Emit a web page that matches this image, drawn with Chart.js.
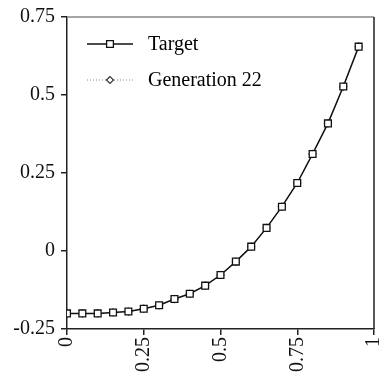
<!DOCTYPE html>
<html>
<head>
<meta charset="utf-8">
<script src="https://cdn.jsdelivr.net/npm/chart.js@4.4.1/dist/chart.umd.min.js"></script>
<style>
  html, body { margin: 0; padding: 0; background: #fff; }
  #wrap { width: 385px; height: 378px; }
</style>
</head>
<body>
<div id="wrap"><canvas id="chart"></canvas></div>
<script>
// Data
const xValues = [0, 0.05, 0.1, 0.15, 0.2, 0.25, 0.3, 0.35, 0.4, 0.45, 0.5, 0.55, 0.6, 0.65, 0.7, 0.75, 0.8, 0.85, 0.9, 0.95];
const targetValues = [-0.2, -0.2, -0.2, -0.197, -0.194, -0.185, -0.174, -0.154, -0.137, -0.111, -0.077, -0.034, 0.014, 0.074, 0.142, 0.218, 0.311, 0.409, 0.527, 0.655];
const gen22Values = [-0.2, -0.2, -0.2, -0.197, -0.194, -0.185, -0.174, -0.154, -0.137, -0.111, -0.077, -0.034, 0.014, 0.074, 0.142, 0.218, 0.311, 0.409, 0.527, 0.655];
const seriesNames = ['Target', 'Generation 22'];
const xTicks = [0, 0.25, 0.5, 0.75, 1];
const yTicks = [-0.25, 0, 0.25, 0.5, 0.75];

const FONT = '"Liberation Serif", "Times New Roman", serif';

function toPoints(vals) {
    return xValues.map((x, i) => ({ x: x, y: vals[i] }));
}

// legend drawn inside the plot, line + marker like the original
const insideLegend = {
    id: 'insideLegend',
    afterDraw(chart) {
        const ctx = chart.ctx;
        const area = chart.chartArea;
        const x0 = area.left + 20, x1 = area.left + 66;
        const rows = [area.top + 27, area.top + 63];
        chart.data.datasets.forEach((ds, r) => {
            const y = rows[r];
            ctx.save();
            ctx.strokeStyle = ds.borderColor;
            ctx.lineWidth = ds.borderWidth;
            ctx.setLineDash(ds.borderDash || []);
            ctx.beginPath();
            ctx.moveTo(x0, y);
            ctx.lineTo(x1, y);
            ctx.stroke();
            ctx.setLineDash([]);
            ctx.fillStyle = ds.pointBackgroundColor;
            ctx.strokeStyle = ds.pointBorderColor;
            ctx.lineWidth = ds.pointBorderWidth;
            Chart.helpers.drawPoint(ctx, {
                pointStyle: ds.pointStyle,
                radius: ds.pointRadius,
                borderWidth: ds.pointBorderWidth,
                rotation: 0
            }, (x0 + x1) / 2, y);
            ctx.fillStyle = '#000';
            ctx.font = '20px ' + FONT;
            ctx.textBaseline = 'middle';
            ctx.fillText(seriesNames[r], x1 + 15, y + 1);
            ctx.restore();
        });
    }
};

// top and right frame lines
const frame = {
    id: 'frame',
    afterDraw(chart) {
        const ctx = chart.ctx;
        const a = chart.chartArea;
        ctx.save();
        ctx.strokeStyle = '#888';
        ctx.lineWidth = 1.5;
        ctx.beginPath();
        ctx.moveTo(a.left, a.top);
        ctx.lineTo(a.right, a.top);
        ctx.stroke();
        ctx.strokeStyle = '#222';
        ctx.beginPath();
        ctx.moveTo(a.right, a.top);
        ctx.lineTo(a.right, a.bottom);
        ctx.stroke();
        ctx.restore();
    }
};

const ctx = document.getElementById('chart').getContext('2d');
const chart = new Chart(ctx, {
    type: 'line',
    data: {
        datasets: [{
            label: seriesNames[0],
            data: toPoints(targetValues),
            borderColor: '#111',
            backgroundColor: '#fff',
            borderWidth: 1.5,
            pointStyle: 'rect',
            pointRadius: 4.8,
            pointBorderWidth: 1.3,
            pointBackgroundColor: '#fff',
            pointBorderColor: '#111',
            tension: 0
        }, {
            label: seriesNames[1],
            data: toPoints(gen22Values),
            borderColor: '#888',
            backgroundColor: '#fff',
            borderWidth: 1,
            borderDash: [1, 2],
            pointStyle: 'rectRot',
            pointRadius: 3.5,
            pointBorderWidth: 1.2,
            pointBackgroundColor: '#fff',
            pointBorderColor: '#333',
            tension: 0
        }]
    },
    options: {
        responsive: true,
        maintainAspectRatio: false,
        animation: false,
        layout: { padding: { top: 17, right: 11, left: 0, bottom: 0 } },
        scales: {
            x: {
                type: 'linear',
                min: 0,
                max: 1,
                afterFit: (s) => { s.height = 49; s.paddingLeft = 0; s.paddingRight = 0; },
                afterBuildTicks: (s) => { s.ticks = xTicks.map(v => ({ value: v })); },
                border: { display: true, color: '#222', width: 1.5 },
                grid: { drawOnChartArea: false, tickLength: 6, color: '#222', lineWidth: 1.5 },
                ticks: {
                    minRotation: 90,
                    maxRotation: 90,
                    color: '#111',
                    padding: 2,
                    font: { family: FONT, size: 20 },
                    callback: (v) => String(v)
                }
            },
            y: {
                type: 'linear',
                min: -0.25,
                max: 0.75,
                afterFit: (s) => { s.width = 67; s.paddingTop = 0; s.paddingBottom = 0; },
                afterBuildTicks: (s) => { s.ticks = yTicks.map(v => ({ value: v })); },
                border: { display: true, color: '#222', width: 1.5 },
                grid: { drawOnChartArea: false, tickLength: 6, color: '#222', lineWidth: 1.5 },
                ticks: {
                    color: '#111',
                    padding: 6,
                    font: { family: FONT, size: 20 },
                    callback: (v) => String(v)
                }
            }
        },
        plugins: {
            legend: { display: false },
            tooltip: { enabled: false }
        }
    },
    plugins: [insideLegend, frame]
});
</script>
</body>
</html>
